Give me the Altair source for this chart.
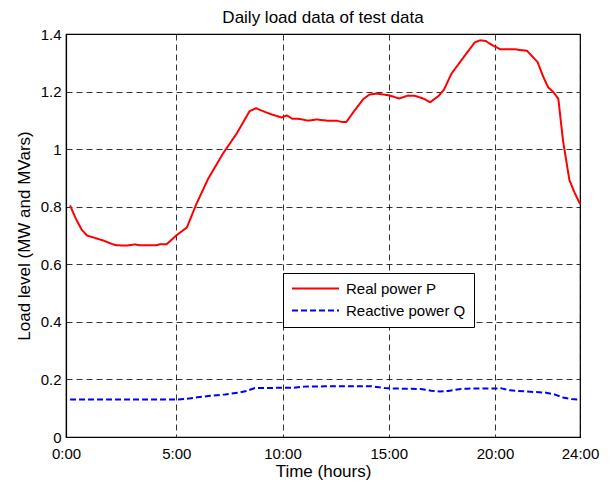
import altair as alt
import pandas as pd

# ---- data ----
series = ["Real power P", "Reactive power Q"]

hours_p = [0.0, 0.25, 0.55, 0.8, 1.1, 1.55, 1.95, 2.2, 2.65, 3.05, 3.3, 4.05, 4.25, 4.55,
           5.0, 5.5, 5.95, 6.5, 7.2, 7.85, 8.45, 8.75, 9.25, 9.55, 9.95, 10.2, 10.45, 10.8,
           11.2, 11.6, 12.1, 12.55, 12.8, 13.0, 13.35, 13.8, 14.1, 14.45, 15.0, 15.5, 15.9,
           16.25, 16.65, 16.95, 17.35, 17.6, 17.95, 18.6, 19.05, 19.3, 19.55, 19.9, 20.25,
           20.95, 21.2, 21.5, 22.0, 22.25, 22.5, 22.75, 22.98, 23.2, 23.5, 23.75, 24.0]
power_p = [0.805, 0.762, 0.72, 0.70, 0.693, 0.683, 0.671, 0.666, 0.665, 0.669, 0.666, 0.666, 0.670, 0.670,
           0.70, 0.728, 0.81, 0.897, 0.985, 1.055, 1.132, 1.142, 1.127, 1.119, 1.110, 1.117, 1.106, 1.105,
           1.099, 1.103, 1.099, 1.099, 1.094, 1.094, 1.130, 1.174, 1.190, 1.193, 1.187, 1.176, 1.186,
           1.185, 1.175, 1.163, 1.185, 1.207, 1.262, 1.327, 1.371, 1.378, 1.376, 1.360, 1.347,
           1.347, 1.344, 1.342, 1.303, 1.255, 1.215, 1.198, 1.175, 1.03, 0.893, 0.848, 0.810]

hours_q = [0.0, 5.0, 5.5, 6.0, 6.6, 7.3, 8.0, 8.3, 8.7, 10.0, 10.5, 11.0, 12.0, 14.2, 14.8,
           15.5, 16.5, 17.0, 17.4, 17.8, 18.3, 18.7, 20.3, 20.7, 21.5, 22.4, 22.8, 23.2, 23.6, 24.0]
power_q = [0.13, 0.13, 0.133, 0.138, 0.143, 0.148, 0.155, 0.16, 0.17, 0.171, 0.171, 0.175, 0.176, 0.176, 0.170,
           0.168, 0.167, 0.161, 0.158, 0.16, 0.166, 0.168, 0.169, 0.162, 0.158, 0.154, 0.148, 0.137, 0.132, 0.130]

x_ticks = [-0.19, 5, 10, 15, 20, 24]
y_ticks = [0, 0.2, 0.4, 0.6, 0.8, 1.0, 1.2, 1.4]

df = pd.concat([
    pd.DataFrame({"t": hours_p, "v": power_p, "s": series[0]}),
    pd.DataFrame({"t": hours_q, "v": power_q, "s": series[1]}),
], ignore_index=True)

FONT = "Liberation Sans"

legend = alt.Legend(
    title=None, orient="none", legendX=217, legendY=239,
    symbolType="stroke", symbolSize=2209, symbolStrokeWidth=2, clipHeight=15,
    labelFontSize=15, labelFont=FONT, labelColor="black", labelOffset=6,
    rowPadding=6, padding=8, strokeColor="black", fillColor="white",
    symbolOffset=0, cornerRadius=0,
)

chart = alt.Chart(df).mark_line(strokeWidth=2, strokeJoin="round").encode(
    x=alt.X("t:Q",
            scale=alt.Scale(domain=[-0.19, 24], nice=False, zero=False),
            axis=alt.Axis(values=x_ticks,
                          labelExpr="datum.value < 0 ? '0:00' : datum.value + ':00'",
                          labelFlush=False, labelOverlap=False,
                          title="Time (hours)", labelPadding=9, titlePadding=2)),
    y=alt.Y("v:Q",
            scale=alt.Scale(domain=[0, 1.4], nice=False),
            axis=alt.Axis(values=y_ticks, format="~g", labelFlush=False, labelOverlap=False,
                          title="Load level (MW and MVars)", labelPadding=5, titlePadding=7)),
    color=alt.Color("s:N", scale=alt.Scale(domain=series, range=["#ff0000", "#0000ff"]), legend=legend),
    strokeDash=alt.StrokeDash("s:N", scale=alt.Scale(domain=series, range=[[1, 0], [6, 3]]), legend=legend),
).properties(
    width=514, height=403,
    title=alt.Title("Daily load data of test data", font=FONT, fontSize=17,
                    fontWeight="normal", color="black", offset=0, anchor="middle", frame="group"),
    autosize=alt.AutoSizeParams(type="none"),
    padding={"left": 58, "top": 26, "right": 20, "bottom": 44},
).configure_view(
    stroke="black", strokeWidth=1.2
).configure_axis(
    labelFont=FONT, labelFontSize=15, labelColor="black",
    titleFont=FONT, titleFontSize=17, titleFontWeight="normal", titleColor="black",
    ticks=False, domain=True, domainColor="black", domainWidth=1.2,
    grid=True, gridColor="black", gridDash=[6, 4], gridWidth=1, gridOpacity=0.8,
)

chart.save("out.html", embed_options={"renderer": "svg", "actions": False})
